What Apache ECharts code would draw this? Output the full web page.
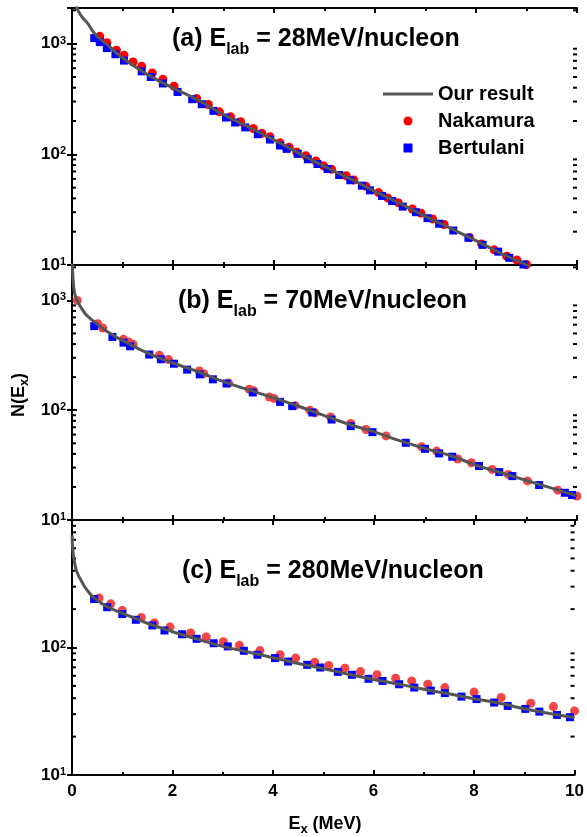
<!DOCTYPE html>
<html>
<head>
<meta charset="utf-8">
<script src="https://cdn.jsdelivr.net/npm/echarts@6/dist/echarts.min.js"></script>
<style>
  html, body { margin: 0; padding: 0; background: #fff; }
  #plot { width: 587px; height: 837px; }
</style>
</head>
<body>
<div id="plot"></div>
<script>
"use strict";

// Our result, Nakamura and Bertulani for each beam energy: [Ex (MeV), N(Ex)]
var curve28 = [[0.05, 2630], [0.1, 2089], [0.2, 1738], [0.3, 1549], [0.4, 1318], [0.5, 1161],
  [0.75, 933], [1.0, 741], [1.5, 525], [2.0, 398], [2.5, 309], [3.0, 229], [3.5, 176],
  [4.0, 135], [4.5, 102], [5.0, 77.6], [5.5, 60.3], [6.0, 46.2], [6.5, 35.9], [7.0, 27.5],
  [7.5, 21.4], [8.0, 16.6], [8.5, 12.7], [9.0, 10.0], [9.2, 9.0]];
var nakamura28 = [[0.55, 1164], [0.69, 1021], [0.88, 871], [1.03, 785], [1.21, 682], [1.38, 624],
  [1.59, 543], [1.80, 476], [2.02, 412], [2.47, 319], [2.70, 282], [2.92, 242], [3.14, 218],
  [3.34, 197], [3.59, 171], [3.76, 155], [3.92, 144], [4.12, 127], [4.30, 116], [4.45, 105],
  [4.63, 97.0], [4.83, 87.1], [4.98, 78.9], [5.14, 73.3], [5.43, 64.1], [5.58, 58.6],
  [5.82, 51.5], [6.07, 45.1], [6.25, 40.4], [6.46, 36.6], [6.74, 32.1], [6.91, 29.4],
  [7.14, 26.1], [7.37, 23.2], [7.87, 17.7], [8.11, 15.5], [8.36, 13.7], [8.61, 12.0],
  [8.81, 11.1], [9.00, 10.1]];
var bertulani28 = [[0.44, 1122], [0.55, 1033], [0.69, 912], [0.86, 802], [1.03, 703], [1.38, 562],
  [1.56, 500], [1.80, 437], [2.09, 366], [2.38, 315], [2.57, 284], [2.80, 247], [3.05, 215],
  [3.23, 194], [3.43, 175], [3.68, 152], [3.92, 136], [4.12, 120], [4.25, 112], [4.47, 101],
  [4.67, 90.2], [4.86, 81.8], [5.06, 73.8], [5.29, 65.0], [5.51, 58.3], [5.74, 52.1],
  [5.90, 47.3], [6.14, 42.1], [6.34, 37.8], [6.55, 33.7], [6.81, 30.0], [7.04, 26.5],
  [7.27, 23.6], [7.55, 20.5], [7.85, 17.6], [8.13, 15.2], [8.44, 13.2], [8.66, 11.6],
  [8.94, 10.1]];

var curve70 = [[0.003, 2630], [0.02, 1585], [0.05, 1175], [0.1, 1000], [0.2, 832], [0.3, 724],
  [0.5, 610], [0.75, 501], [1.0, 432], [1.5, 331], [2.0, 269], [2.5, 224], [3.0, 182],
  [3.5, 153], [4.0, 129], [4.5, 108], [5.0, 89.1], [5.5, 74.1], [6.0, 63.1], [6.5, 52.5],
  [7.0, 44.7], [7.5, 38.5], [8.0, 31.6], [8.5, 26.9], [9.0, 22.9], [9.5, 19.5], [10, 16.6]];
var nakamura70 = [[0.105, 1000], [0.51, 614], [0.61, 560], [1.02, 442], [1.12, 418], [1.21, 398],
  [1.73, 316], [1.91, 289], [2.52, 228], [2.61, 215], [3.10, 177], [3.51, 155], [3.60, 150],
  [3.91, 132], [4.00, 128], [4.42, 110], [4.71, 100], [4.81, 94.4], [5.12, 86.9], [5.52, 75.7],
  [5.82, 66.7], [6.22, 58.3], [6.92, 46.5], [7.22, 42.4], [7.64, 35.9], [7.91, 33.2],
  [8.32, 28.9], [8.64, 26.0], [9.02, 22.7], [9.62, 18.7], [10.0, 16.5]];
var bertulani70 = [[0.44, 583], [0.80, 465], [1.02, 412], [1.15, 382], [1.53, 321], [1.76, 291],
  [2.02, 265], [2.28, 234], [2.53, 212], [2.79, 191], [3.06, 175], [3.58, 145], [4.12, 119],
  [4.36, 109], [4.76, 95.3], [5.14, 82.2], [5.52, 71.6], [5.95, 63.1], [6.61, 50.5],
  [6.99, 44.5], [7.27, 40.4], [7.53, 37.7], [8.06, 31.0], [8.46, 27.3], [8.72, 25.1],
  [9.25, 20.8], [9.76, 17.7], [9.90, 16.9]];

var curve280 = [[0.003, 760], [0.02, 560], [0.06, 447], [0.1, 389], [0.19, 331], [0.3, 282],
  [0.45, 243], [0.7, 209], [1.0, 186], [1.5, 155], [2.0, 133], [2.5, 116], [3.0, 102],
  [3.5, 92.3], [4.0, 83.2], [4.5, 75.0], [5.0, 68.4], [5.5, 61.7], [6.0, 56.2], [6.5, 51.6],
  [7.0, 47.0], [7.5, 43.3], [8.0, 39.6], [8.5, 36.6], [9.0, 33.1], [9.5, 30.4], [10, 28.2]];
var nakamura280 = [[0.54, 244], [0.77, 220], [1.0, 195], [1.38, 172], [1.64, 156], [1.95, 145],
  [2.36, 130], [2.67, 121], [3.01, 111], [3.33, 104], [3.74, 94.6], [4.14, 87.7], [4.45, 82.6],
  [4.83, 76.7], [5.11, 72.3], [5.43, 68.9], [5.74, 64.7], [6.07, 61.1], [6.44, 57.5],
  [6.76, 54.7], [7.08, 51.5], [7.42, 48.5], [8.0, 44.7], [8.54, 40.5], [9.13, 36.6],
  [9.58, 34.4], [10.0, 31.8]];
var bertulani280 = [[0.44, 240], [0.70, 207], [1.0, 183], [1.27, 165], [1.60, 149], [1.84, 136],
  [2.19, 127], [2.48, 117], [2.82, 108], [3.10, 102], [3.42, 94.2], [3.69, 87.7], [4.04, 82.6],
  [4.30, 77.6], [4.68, 73.1], [4.94, 69.7], [5.29, 64.4], [5.57, 61.1], [5.90, 56.8],
  [6.18, 54.7], [6.51, 51.5], [6.81, 48.5], [7.14, 45.9], [7.42, 43.9], [7.75, 41.2],
  [8.05, 39.4], [8.40, 37.0], [8.67, 34.8], [9.02, 33.0], [9.30, 31.4], [9.65, 29.6],
  [9.91, 28.4]];

var panelTitles = ['(a) E', '(b) E', '(c) E'];
var panelEnergies = ['28MeV/nucleon', '70MeV/nucleon', '280MeV/nucleon'];
var yMax = [2100, 2100, 1000];
// minor ticks of the log axes (2..9 in each decade)
var minorTicksY = [20, 30, 40, 50, 60, 70, 80, 90, 200, 300, 400, 500, 600, 700, 800, 900, 2000];

var FONT = '"Liberation Sans", Arial, sans-serif';

var panels = [
  { top: 8, height: 257, curve: curve28, nak: nakamura28, ber: bertulani28, red: '#ff0000', tx: 172, ty: 45 },
  { top: 265, height: 255, curve: curve70, nak: nakamura70, ber: bertulani70, red: '#f24545', tx: 178, ty: 307 },
  { top: 520, height: 255, curve: curve280, nak: nakamura280, ber: bertulani280, red: '#f24545', tx: 182, ty: 577 }
];

var supRich = {
  b: { fontFamily: FONT, fontWeight: 'bold', fontSize: 17, color: '#000' },
  s: { fontFamily: FONT, fontWeight: 'bold', fontSize: 11, color: '#000', verticalAlign: 'top' }
};

function powLabel(v) {
  var e = Math.log(v) / Math.LN10;
  var r = Math.round(e);
  if (Math.abs(e - r) > 1e-6) return '';
  return '{b|10}{s|' + r + '}';
}

// short dotted-looking minor ticks, just inside the frame on both sides
function renderMinorTick(params, api) {
  var v = api.value(1);
  var left = api.coord([0, v]);
  var right = api.coord([10, v]);
  var st = { stroke: '#000', lineWidth: 2 };
  return {
    type: 'group',
    children: [
      { type: 'line', shape: { x1: left[0], y1: left[1], x2: left[0] + 4, y2: left[1] }, style: st },
      { type: 'line', shape: { x1: right[0] - 4, y1: right[1], x2: right[0], y2: right[1] }, style: st }
    ]
  };
}

var grids = [], xAxes = [], yAxes = [], series = [], graphics = [];

panels.forEach(function (p, i) {
  grids.push({ left: 72, width: 505, top: p.top, height: p.height });

  var xBase = {
    type: 'value', gridIndex: i, min: 0, max: 10, interval: 2,
    axisLine: { lineStyle: { color: '#000', width: 2 } },
    axisTick: { inside: true, length: 5, lineStyle: { color: '#000', width: 2 } },
    minorTick: { show: true, splitNumber: 2, length: 3, lineStyle: { color: '#000', width: 2 } },
    splitLine: { show: false }
  };
  xAxes.push(Object.assign({}, xBase, {
    position: 'bottom',
    axisLabel: {
      show: i === 2, margin: 8, color: '#000', fontFamily: FONT, fontWeight: 'bold', fontSize: 17
    }
  }));
  xAxes.push(Object.assign({}, xBase, { position: 'top', axisLabel: { show: false } }));

  var yBase = {
    type: 'log', logBase: 10, gridIndex: i, min: 10, max: yMax[i],
    axisLine: { lineStyle: { color: '#000', width: 2 } },
    axisTick: { inside: false, length: 5, lineStyle: { color: '#000', width: 2 } },
    minorTick: { show: false },
    splitLine: { show: false }
  };
  yAxes.push(Object.assign({}, yBase, {
    position: 'left',
    axisLabel: {
      margin: 6, formatter: powLabel, rich: supRich,
      showMaxLabel: i !== 2
    }
  }));
  yAxes.push(Object.assign({}, yBase, { position: 'right', axisLabel: { show: false } }));

  series.push({
    name: 'minor' + i, type: 'custom', xAxisIndex: 2 * i, yAxisIndex: 2 * i,
    data: minorTicksY.filter(function (v) { return v < yMax[i]; }).map(function (v) { return [0, v]; }),
    renderItem: renderMinorTick, silent: true, clip: false
  });
  series.push({
    name: 'Our result', type: 'line', xAxisIndex: 2 * i, yAxisIndex: 2 * i,
    data: p.curve, smooth: true, symbol: 'none', showSymbol: false,
    lineStyle: { color: '#555555', width: 3 }, itemStyle: { color: '#555555' }
  });
  series.push({
    name: 'Nakamura', type: 'scatter', xAxisIndex: 2 * i, yAxisIndex: 2 * i,
    data: p.nak, symbol: 'circle', symbolSize: 9, itemStyle: { color: p.red, opacity: 1 }
  });
  series.push({
    name: 'Bertulani', type: 'scatter', xAxisIndex: 2 * i, yAxisIndex: 2 * i,
    data: p.ber, symbol: 'rect', symbolSize: 8, itemStyle: { color: '#0000ff', opacity: 1 }
  });

  graphics.push({
    type: 'text', left: p.tx, top: p.ty - 18,
    style: {
      text: '{m|' + panelTitles[i] + '}{sub|lab}{m| = ' + panelEnergies[i] + '}',
      rich: {
        m: { fontFamily: FONT, fontWeight: 'bold', fontSize: 25, lineHeight: 36, color: '#000' },
        sub: { fontFamily: FONT, fontWeight: 'bold', fontSize: 16, lineHeight: 12, color: '#000', verticalAlign: 'bottom' }
      }
    }
  });
});

// axis names
graphics.push({
  type: 'text', x: 325, y: 824,
  style: {
    text: '{m|E}{sub|x}{m| (MeV)}', align: 'center', verticalAlign: 'middle',
    rich: {
      m: { fontFamily: FONT, fontWeight: 'bold', fontSize: 18, lineHeight: 24, color: '#000' },
      sub: { fontFamily: FONT, fontWeight: 'bold', fontSize: 13, lineHeight: 10, color: '#000', verticalAlign: 'bottom' }
    }
  }
});
graphics.push({
  type: 'text', x: 19, y: 395, rotation: Math.PI / 2,
  style: {
    text: '{m|N(E}{sub|x}{m|)}', align: 'center', verticalAlign: 'middle',
    rich: {
      m: { fontFamily: FONT, fontWeight: 'bold', fontSize: 18, lineHeight: 24, color: '#000' },
      sub: { fontFamily: FONT, fontWeight: 'bold', fontSize: 13, lineHeight: 10, color: '#000', verticalAlign: 'bottom' }
    }
  }
});

var chart = echarts.init(document.getElementById('plot'), null, { renderer: 'canvas' });
chart.setOption({
  backgroundColor: '#fff',
  animation: false,
  grid: grids,
  xAxis: xAxes,
  yAxis: yAxes,
  legend: {
    data: [
      { name: 'Our result', icon: 'path://M0,0H50V3H0Z', itemStyle: { color: '#555555' } },
      { name: 'Nakamura', icon: 'circle' },
      { name: 'Bertulani', icon: 'path://M0,0H8V8H0Z' }
    ],
    orient: 'vertical', left: 378, top: 79,
    itemWidth: 50, itemHeight: 9, itemGap: 7, symbolKeepAspect: true,
    textStyle: { fontFamily: FONT, fontWeight: 'bold', fontSize: 20, lineHeight: 20, color: '#000' }
  },
  graphic: graphics,
  series: series
});
</script>
</body>
</html>
